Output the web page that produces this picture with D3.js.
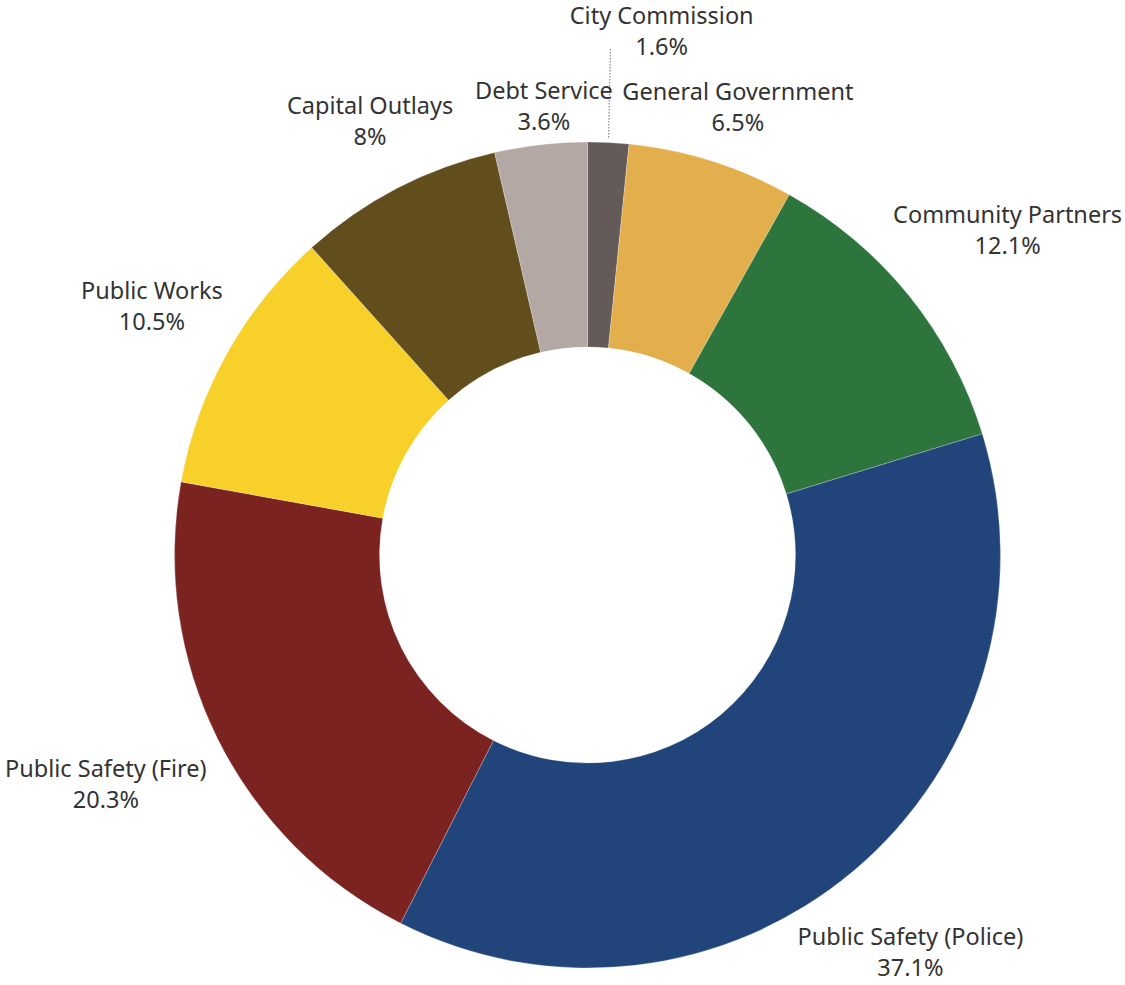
<!DOCTYPE html>
<html>
<head>
<meta charset="utf-8">
<script src="https://cdn.jsdelivr.net/npm/d3@7"></script>
<style>
  body { margin: 0; background: #fff; }
  text { font-family: "Noto Sans", sans-serif; font-size: 23.5px; fill: #333; }
</style>
</head>
<body>
<div id="chart"></div>
<script>
// slices, clockwise from 12 o'clock
var categories = ["City Commission", "General Government", "Community Partners",
  "Public Safety (Police)", "Public Safety (Fire)", "Public Works",
  "Capital Outlays", "Debt Service"];
var values = [1.6, 6.5, 12.1, 37.1, 20.3, 10.5, 8, 3.6];
var pctLabels = ["1.6%", "6.5%", "12.1%", "37.1%", "20.3%", "10.5%", "8%", "3.6%"];
var colors = ["#645a59", "#e3ae4c", "#2e753d", "#21457a", "#7b2320", "#f7d02a", "#624e1d", "#b3a8a3"];

var width = 1125, height = 985;
var cx = 587.5, cy = 555;
var outerR = 413, innerR = 208, labelR = 500;

// nudges to keep labels off the ring / each other
var nudge = [[49, -25], [0, 29], [31, -11], [1, 14], [-34, 6], [1, -5], [13, 10], [13, 48]];

var svg = d3.select("#chart").append("svg")
    .attr("width", width)
    .attr("height", height);

var g = svg.append("g").attr("transform", "translate(" + cx + "," + cy + ")");

var data = categories.map(function (c, i) { return { name: c, value: values[i], pct: pctLabels[i], color: colors[i], i: i }; });

var pie = d3.pie().value(function (d) { return d.value; }).sort(null);
var arcs = pie(data);

var arc = d3.arc().innerRadius(innerR).outerRadius(outerR);
var labelArc = d3.arc().innerRadius(labelR).outerRadius(labelR);

g.selectAll("path.slice")
    .data(arcs)
    .enter()
    .append("path")
    .attr("class", "slice")
    .attr("d", arc)
    .attr("fill", function (d) { return d.data.color; })
    .attr("stroke", "#fff")
    .attr("stroke-opacity", 0.4)
    .attr("stroke-width", 0.6);

// leader line for the tiny City Commission slice
var first = arcs[0];
var mid = (first.startAngle + first.endAngle) / 2;
var lx = Math.sin(mid) * (outerR + 5);
g.append("line")
    .attr("x1", lx).attr("y1", -Math.cos(mid) * (outerR + 5))
    .attr("x2", lx + 2).attr("y2", -Math.cos(mid) * (outerR + 95))
    .attr("stroke", "#888")
    .attr("stroke-width", 1.2)
    .attr("stroke-dasharray", "1.5,1.5");

var labels = g.selectAll("g.label")
    .data(arcs)
    .enter()
    .append("g")
    .attr("class", "label")
    .attr("transform", function (d) {
        var c = labelArc.centroid(d);
        var n = nudge[d.data.i];
        return "translate(" + (c[0] + n[0]) + "," + (c[1] + n[1]) + ")";
    });

labels.append("text")
    .attr("text-anchor", "middle")
    .attr("y", -7)
    .text(function (d) { return d.data.name; });

labels.append("text")
    .attr("text-anchor", "middle")
    .attr("y", 24)
    .text(function (d) { return d.data.pct; });
</script>
</body>
</html>
